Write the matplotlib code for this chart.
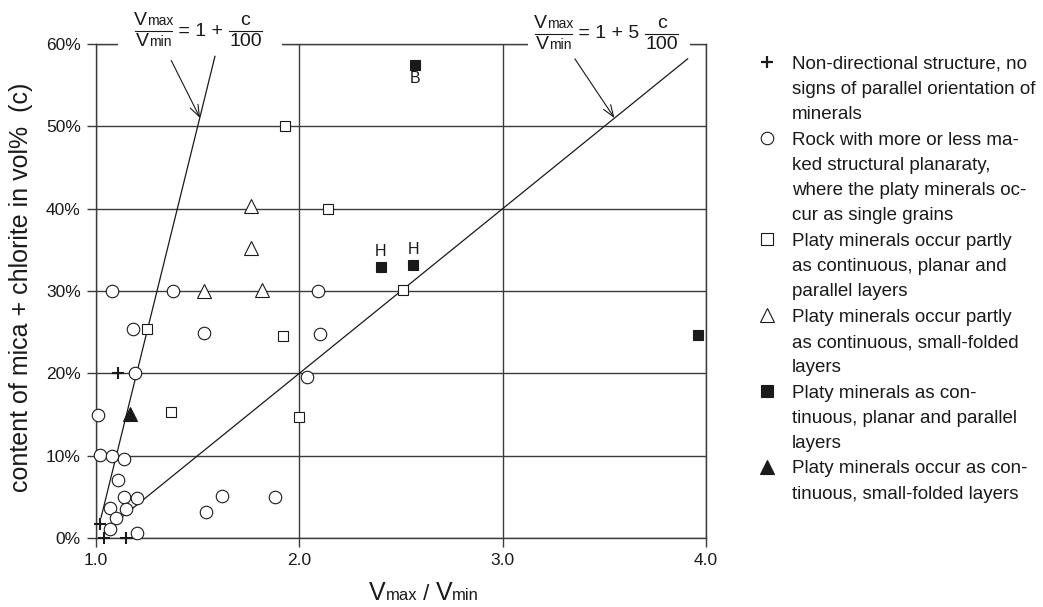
import matplotlib
matplotlib.use("Agg")
import matplotlib.pyplot as plt
import numpy as np
from matplotlib.lines import Line2D
from matplotlib.patches import Rectangle
from matplotlib.offsetbox import TextArea, HPacker, VPacker, DrawingArea, AnnotationBbox

FONT = "Liberation Sans"
plt.rcParams["font.family"] = [FONT, "DejaVu Sans"]
INK = "#1a1a1a"
GRID = "#3c3c3c"

# ---- data: Vmax/Vmin ratio (x) and mica + chlorite content in vol% (c) ----
plus_x = [1.11, 1.02, 1.04, 1.15]
plus_c = [20.0, 1.7, 0.0, 0.0]

circle_x = [1.08, 1.38, 2.09, 1.18, 1.53, 2.10, 1.19, 2.04, 1.01, 1.02, 1.08, 1.14,
            1.11, 1.14, 1.20, 1.62, 1.88, 1.07, 1.15, 1.54, 1.10, 1.07, 1.20]
circle_c = [30.0, 30.0, 30.0, 25.4, 24.9, 24.8, 20.1, 19.6, 14.9, 10.1, 9.9, 9.6,
            7.1, 5.0, 4.8, 5.1, 5.0, 3.7, 3.5, 3.2, 2.4, 1.1, 0.65]

square_x = [1.93, 2.14, 2.51, 1.92, 2.00, 1.25, 1.37]
square_c = [50.0, 40.0, 30.1, 24.5, 14.7, 25.4, 15.3]

triangle_x = [1.76, 1.76, 1.815, 1.53]
triangle_c = [40.3, 35.2, 30.1, 30.0]

fsquare_x = [2.40, 2.56, 2.57, 3.96]
fsquare_c = [32.9, 33.2, 57.5, 24.7]
fsquare_tags = ["H", "H", "B", ""]

ftriangle_x = [1.165]
ftriangle_c = [15.1]

# content range over which the two reference relations are drawn
line1_c = [2.5, 58.5]   # Vmax/Vmin = 1 + c/100
line2_c = [2.0, 58.2]   # Vmax/Vmin = 1 + 5 c/100

x_ticks = [1.0, 2.0, 3.0, 4.0]
x_ticklabels = ["1.0", "2.0", "3.0", "4.0"]
y_ticks = [0, 10, 20, 30, 40, 50, 60]
y_ticklabels = ["0%", "10%", "20%", "30%", "40%", "50%", "60%"]

legend_items = [
    ("+", ["Non-directional structure, no", "signs of parallel orientation of", "minerals"]),
    ("o", ["Rock with more or less ma-", "ked structural planaraty,",
           "where the platy minerals oc-", "cur as single grains"]),
    ("s", ["Platy minerals occur partly", "as continuous, planar and", "parallel layers"]),
    ("^", ["Platy minerals occur partly", "as continuous, small-folded", "layers"]),
    ("S", ["Platy minerals as con-", "tinuous, planar and parallel", "layers"]),
    ("T", ["Platy minerals occur as con-", "tinuous, small-folded layers"]),
]

W, H = 1043, 607
fig = plt.figure(figsize=(W / 100, H / 100), dpi=100)
fig.patch.set_facecolor("white")

ax = fig.add_axes([96 / W, (H - 538) / H, (706 - 96) / W, (538 - 44) / H])
ax.set_xlim(1.0, 4.0)
ax.set_ylim(0, 60)
ax.set_xticks(x_ticks, labels=x_ticklabels)
ax.set_yticks(y_ticks, labels=y_ticklabels)
ax.tick_params(axis="both", direction="out", length=6.5, width=1.0, color=GRID,
               labelsize=12.5, labelcolor=INK)
ax.tick_params(axis="y", pad=4.5)
ax.tick_params(axis="x", pad=4)
ax.grid(True, color=GRID, lw=1.0)
ax.set_axisbelow(True)
for sp in ax.spines.values():
    sp.set_color(GRID)
    sp.set_linewidth(1.0)

# reference relations
c1 = np.array(line1_c)
ax.plot(1 + c1 / 100, c1, color=INK, lw=0.9, zorder=2)
c2 = np.array(line2_c)
ax.plot(1 + 5 * c2 / 100, c2, color=INK, lw=0.9, zorder=2)

mk = dict(linestyle="none", clip_on=False, zorder=4)
ax.plot(plus_x, plus_c, marker="+", ms=8.5, mew=1.5, color=INK, **mk)
ax.plot(circle_x, circle_c, marker="o", ms=9, mew=0.8, mfc="white", mec=INK, **mk)
ax.plot(square_x, square_c, marker="s", ms=7.5, mew=0.8, mfc="white", mec=INK, **mk)
ax.plot(triangle_x, triangle_c, marker="^", ms=9.5, mew=0.8, mfc="white", mec=INK, **mk)
ax.plot(fsquare_x, fsquare_c, marker="s", ms=7.5, mew=0.8, mfc=INK, mec=INK, **mk)
ax.plot(ftriangle_x, ftriangle_c, marker="^", ms=9.5, mew=0.8, mfc=INK, mec=INK, **mk)

for x, c, tag in zip(fsquare_x, fsquare_c, fsquare_tags):
    if not tag:
        continue
    dy = -10 if c > 55 else 11
    ax.annotate(tag, (x, c), xytext=(0, dy), textcoords="offset points",
                ha="center", va="center", fontsize=11.5, color=INK)

# arrows from the relation labels to their lines
arrow_style = dict(arrowstyle="->,head_length=0.6,head_width=0.22", color=INK,
                   lw=0.8, mutation_scale=14, shrinkA=0, shrinkB=0)
ax.annotate("", xy=(1.512, 51.0), xytext=(1.37, 58.0), arrowprops=arrow_style,
            annotation_clip=False)
ax.annotate("", xy=(3.55, 51.0), xytext=(3.355, 58.2), arrowprops=arrow_style,
            annotation_clip=False)


# ---- composed formula labels ----
def piece(s, size):
    return TextArea(s, textprops=dict(fontsize=size, color=INK, family=FONT))


def vsym(sub, big, small):
    return HPacker(children=[piece("V", big), piece(sub, small)],
                   align="baseline", pad=0, sep=0)


def frac(top, bottom, width):
    bar = DrawingArea(width, 1.6, 0, 0)
    bar.add_artist(Line2D([0, width], [0.8, 0.8], color=INK, lw=0.8))
    return VPacker(children=[top, bar, bottom], align="center", pad=0, sep=0.8)


def ratio_formula(rhs):
    big, small = 14, 10
    left = frac(vsym("max", big, small), vsym("min", big, small), 27)
    right = frac(piece("c", big), piece("100", big), 24)
    return HPacker(children=[left, piece(rhs, big), right], align="center", pad=0, sep=0)


for rhs, cx, cy in [(" = 1 + ", 198, 31), (" = 1 + 5 ", 606, 34)]:
    ab = AnnotationBbox(ratio_formula(rhs), (cx, H - cy), xycoords="figure pixels",
                        frameon=False, box_alignment=(0.5, 0.5), pad=0)
    ab.set_zorder(6)
    fig.add_artist(ab)

# openings in the top frame line around the formulas
for x0, x1 in [(118, 282), (528, 690)]:
    fig.add_artist(Rectangle((x0 / W, 1 - 48 / H), (x1 - x0) / W, 8 / H,
                             transform=fig.transFigure, facecolor="white",
                             edgecolor="none", zorder=5))

# x-axis label
xl = HPacker(children=[piece("V", 18), piece("max", 12), piece(" / ", 16),
                       piece("V", 18), piece("min", 12)],
             align="baseline", pad=0, sep=0)
ab = AnnotationBbox(xl, (424, H - 593), xycoords="figure pixels", frameon=False,
                    box_alignment=(0.5, 0.5), pad=0)
fig.add_artist(ab)

# y-axis label
fig.text(21 / W, 1 - 287 / H, "content of mica + chlorite in vol%  (c)",
         rotation=90, ha="center", va="center", fontsize=18, color=INK)

# ---- legend ----
lax = fig.add_axes([0, 0, 1, 1], facecolor="none")
lax.set_xlim(0, W)
lax.set_ylim(H, 0)
lax.axis("off")

marker_styles = {
    "+": dict(marker="+", ms=9, mew=1.6, color=INK),
    "o": dict(marker="o", ms=9, mew=0.8, mfc="white", mec=INK),
    "s": dict(marker="s", ms=8, mew=0.8, mfc="white", mec=INK),
    "^": dict(marker="^", ms=10, mew=0.8, mfc="white", mec=INK),
    "S": dict(marker="s", ms=8, mew=0.8, mfc=INK, mec=INK),
    "T": dict(marker="^", ms=10, mew=0.8, mfc=INK, mec=INK),
}
line_step = 25.3
y = 62.0
for key, lines in legend_items:
    lax.plot([767], [y], linestyle="none", **marker_styles[key])
    for k, txt in enumerate(lines):
        lax.text(792, y + k * line_step + 6.7, txt, ha="left", va="baseline",
                 fontsize=13.5, color=INK)
    y += len(lines) * line_step

fig.savefig("out.png", dpi=100, facecolor="white")
